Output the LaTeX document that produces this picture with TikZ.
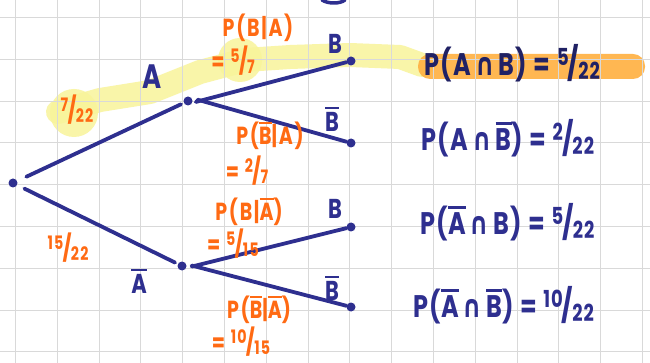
\documentclass[tikz,border=0pt]{standalone}
\usepackage{fontspec}
\setmainfont{Poppins}
\newfontfamily\symf{DejaVu Sans}
\definecolor{inkblue}{HTML}{2E2F8F}
\definecolor{inkor}{HTML}{FF6A13}
\definecolor{hlyel}{HTML}{F8F49A}
\definecolor{hlor}{HTML}{FFB040}
\definecolor{gridc}{HTML}{D9D9D9}
\newcommand\ovl[1]{\leavevmode\vbox{\hrule height 0.09em\kern 0.12em\hbox{#1}}}
\newcommand\hfr[2]{\raisebox{0.32em}{\scalebox{0.75}{#1}}\kern-0.04em\scalebox{1.05}{/}\kern-0.04em\raisebox{-0.12em}{\scalebox{0.75}{#2}}}
\newcommand\capx{{\symf\bfseries ∩}}
\newcommand\tall[1]{\scalebox{1}[1.3]{#1}}
\tikzset{
  dot/.style={circle,fill=inkblue,inner sep=0pt,minimum size=9pt},
  edge/.style={draw=inkblue,line width=3.8pt,line cap=round},
  blab/.style={text=inkblue,font=\bfseries\fontsize{21}{22}\selectfont,inner sep=0pt},
  olab/.style={text=inkor,font=\bfseries\addfontfeatures{LetterSpace=9}\fontsize{19}{20}\selectfont,inner sep=0pt,align=center},
  eqlab/.style={text=inkblue,font=\bfseries\addfontfeatures{LetterSpace=6}\fontsize{24}{26}\selectfont,inner sep=0pt,anchor=west},
  hly/.style={draw=hlyel,line width=24pt,line cap=round,line join=round,opacity=0.85},
}
\begin{document}
\begin{tikzpicture}[x=1pt,y=-1pt]
\useasboundingbox (0,0) rectangle (650,363);
\fill[white] (0,0) rectangle (650,363);
% highlights
\draw[hly] (58,112) -- (100,100) -- (150,92) -- (200,72) -- (245,60) -- (290,57) -- (350,55) -- (400,57) -- (422,65);
\fill[hlyel,opacity=0.85] (74,113) circle (24pt);
\fill[hlyel,opacity=0.85] (240,60) circle (22pt);
\fill[hlor,opacity=0.9,rounded corners=12pt] (418,54) rectangle (645,79);
% grid
\foreach \i in {0,...,15} { \draw[gridc,line width=1pt] (15.5+41.8*\i,0) -- (15.5+41.8*\i,363); }
\foreach \j in {0,...,8} { \draw[gridc,line width=1pt] (0,17.5+41.8*\j) -- (650,17.5+41.8*\j); }
% top fragment
\draw[inkblue,line width=3.5pt,line cap=round] (322,0) .. controls (328,4) and (340,4) .. (345,0);
% tree nodes
\node[dot] (r) at (13,183) {};
\node[dot] (a) at (188,101) {};
\node[dot] (ab) at (182,266) {};
\node[dot] (b1) at (351,61) {};
\node[dot] (b2) at (351,143) {};
\node[dot] (b3) at (351,227) {};
\node[dot] (b4) at (351,307) {};
\draw[edge,shorten <=10pt,shorten >=3pt] (r) -- (a);
\draw[edge,shorten <=8pt,shorten >=3pt] (r) -- (ab);
\draw[edge,shorten <=8pt] ([yshift=-3pt]a.center) -- (b1);
\draw[edge,shorten <=10pt] ([yshift=4pt]a.center) -- (b2);
\draw[edge,shorten <=10pt] ([yshift=-3pt]ab.center) -- (b3);
\draw[edge,shorten <=10pt] ([yshift=3pt]ab.center) -- (b4);
% blue labels
\node[blab,font=\bfseries\fontsize{26}{28}\selectfont] (la) at (152,77) {\tall{A}};
\node[blab] (lb1) at (335,44) {\tall{B}};
\node[blab] (lb2) at (332,119) {\tall{\ovl{B}}};
\node[blab] (lb3) at (335,209) {\tall{B}};
\node[blab] (lab) at (139,281) {\tall{\ovl{A}}};
\node[blab] (lb4) at (332,288) {\tall{\ovl{B}}};
% orange labels
\node[olab] (o1) at (258,28) {\tall{P(B|A)}};
\node[olab] (o1b) at (233,61) {\tall{= \hfr{5}{7}}};
\node[olab] (o2) at (77,110) {\tall{\hfr{7}{22}}};
\node[olab] (o3) at (270,136) {\tall{P(\ovl{B}|A)}};
\node[olab] (o3b) at (247,171) {\tall{= \hfr{2}{7}}};
\node[olab] (o4) at (68,248) {\tall{\hfr{15}{22}}};
\node[olab] (o5) at (249,212) {\tall{P(B|\ovl{A})}};
\node[olab] (o5b) at (233,244) {\tall{= \hfr{5}{15}}};
\node[olab] (o6) at (259,310) {\tall{P(\ovl{B}|\ovl{A})}};
\node[olab] (o6b) at (241,342) {\tall{= \hfr{10}{15}}};
% equations
\node[eqlab,text=inkblue!70!black] (e1) at (424,63) {\tall{P(A\,\capx\,B) = \hfr{5}{22}}};
\node[eqlab] (e2) at (421,138) {\tall{P(A\,\capx\,\ovl{B}) = \hfr{2}{22}}};
\node[eqlab] (e3) at (420,222) {\tall{P(\ovl{A}\,\capx\,B) = \hfr{5}{22}}};
\node[eqlab] (e4) at (413,305) {\tall{P(\ovl{A}\,\capx\,\ovl{B}) = \hfr{10}{22}}};
\end{tikzpicture}
\end{document}
